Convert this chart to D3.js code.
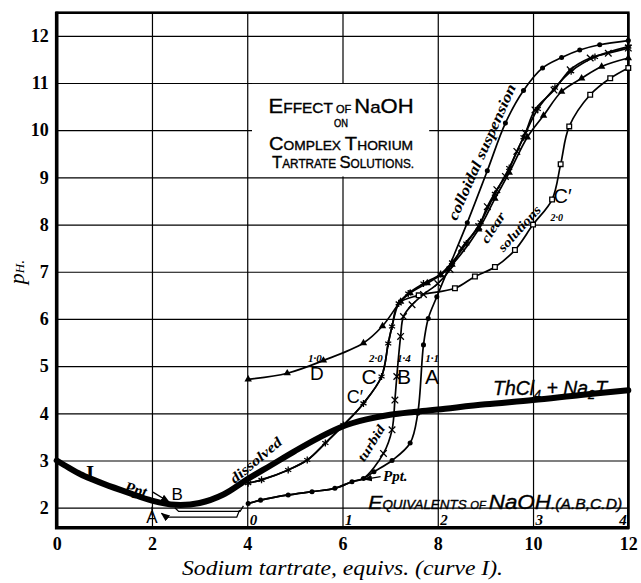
<!DOCTYPE html>
<html lang="en">
<head>
<meta charset="UTF-8">
<title>Effect of NaOH on Complex Thorium Tartrate Solutions</title>
<script src="https://d3js.org/d3.v7.min.js"></script>
<style>
  body { margin: 0; background: #fff; }
  svg { display: block; }
  .grid line { stroke: #000; stroke-width: 1.2px; }
  .grid path { display: none; }
  .tick text { font-family: "Liberation Serif", serif; font-weight: bold; font-size: 18px; fill: #000; }
  .hand { font-family: "Liberation Sans", sans-serif; fill: #000; stroke: #000; stroke-width: 0.35px; }
  .note { font-family: "Liberation Serif", serif; font-style: italic; font-weight: bold; fill: #000; }
  .curve { fill: none; stroke: #000; stroke-width: 1.7px; }
</style>
</head>
<body>
<svg id="chart" width="641" height="583"></svg>
<script>
// curve I : pH against sodium tartrate equivalents
const tartrateEq = [0, 0.25, 0.5, 0.75, 1, 1.5, 2, 2.5, 3, 3.5, 4, 4.5, 5, 5.5, 6, 6.5, 7, 7.5, 8, 9, 10, 11, 12];
const tartratePH = [3.0, 2.85, 2.71, 2.6, 2.5, 2.32, 2.15, 2.06, 2.1, 2.28, 2.6, 2.9, 3.2, 3.48, 3.72, 3.87, 3.97, 4.03, 4.08, 4.19, 4.28, 4.39, 4.49];

// curves A, B, C, D, C' : pH against NaOH equivalents
const aEq = [0.01,0.14,0.43,0.68,0.92,1.10,1.22,1.33,1.52,1.71,1.79,1.85,1.90,1.99,2.11,2.31,2.52,2.71,2.90,3.10,3.30,3.49,3.70,4.00];
const aPH = [2.09,2.16,2.27,2.34,2.41,2.55,2.62,2.76,3.0,3.37,4.0,5.45,6.01,6.47,7.06,8.04,9.14,10.15,10.84,11.32,11.54,11.70,11.81,11.90];

const bEq = [0.01,0.14,0.43,0.68,0.92,1.10,1.22,1.43,1.52,1.55,1.57,1.61,1.64,1.73,1.85,2.00,2.13,2.25,2.43,2.52,2.62,2.71,2.83,2.92,3.02,3.22,3.39,3.60,3.79,4.00];
const bPH = [2.09,2.16,2.27,2.34,2.41,2.55,2.62,3.15,3.65,4.28,4.78,5.63,6.05,6.30,6.52,6.75,7.05,7.50,7.96,8.38,8.74,9.02,9.55,9.94,10.43,10.85,11.28,11.53,11.63,11.74];

const cEq = [0.01,0.15,0.43,0.63,0.82,1.01,1.22,1.41,1.48,1.52,1.59,1.69,1.85,2.03,2.15,2.30,2.45,2.60,2.75,2.90,3.05,3.23,3.40,3.65,4.00];
const cPH = [2.52,2.59,2.80,3.01,3.37,3.75,4.21,4.78,5.48,5.84,6.33,6.54,6.75,6.95,7.20,7.60,8.05,8.65,9.20,9.85,10.45,10.90,11.25,11.55,11.77];

const dEq = [0.01,0.42,0.80,1.22,1.42,1.61,1.71,1.89,2.03,2.15,2.43,2.60,2.75,2.94,3.11,3.30,3.51,3.72,4.00];
const dPH = [4.72,4.85,5.12,5.49,5.85,6.37,6.55,6.76,6.93,7.15,7.90,8.55,9.10,9.85,10.31,10.82,11.10,11.35,11.53];

const cpEq = [0.01,0.15,0.43,0.63,0.82,1.01,1.22,1.41,1.48,1.52,1.59,1.80,2.18,2.39,2.60,2.81,3.00,3.20,3.29,3.38,3.60,3.81,4.00];
const cpPH = [2.52,2.59,2.80,3.01,3.37,3.75,4.21,4.78,5.48,5.84,6.33,6.50,6.65,6.90,7.10,7.46,8.00,8.53,9.28,10.08,10.75,11.10,11.32];

const xTicks = [0, 2, 4, 6, 8, 10, 12];
const yTicks = [2, 3, 4, 5, 6, 7, 8, 9, 10, 11, 12];
const naohTicks = [0, 1, 2, 3, 4];

const svg = d3.select("#chart");

const x = d3.scaleLinear().domain([0, 12]).range([56.7, 628.3]);
const y = d3.scaleLinear().domain([1.576, 12.49]).range([527.7, 12.7]);
const xN = d3.scaleLinear().domain([0, 4]).range([x(4), x(12)]);

const pLeft = x.range()[0], pRight = x.range()[1];
const pTop = y.range()[1], pBottom = y.range()[0];

// grid + tick labels
svg.append("g").attr("class", "grid")
  .attr("transform", `translate(${pLeft},0)`)
  .call(d3.axisLeft(y).tickValues(yTicks).tickSize(-(pRight - pLeft)).tickPadding(8));

svg.append("g").attr("class", "grid")
  .attr("transform", `translate(0,${pBottom})`)
  .call(d3.axisBottom(x).tickValues(xTicks).tickSize(-(pBottom - pTop)).tickPadding(9.5));

// title box blanks the grid behind it
svg.append("rect")
  .attr("x", x(4.1)).attr("y", y(10.98))
  .attr("width", x(7.82) - x(4.1)).attr("height", y(9.02) - y(10.98))
  .attr("fill", "#fff");

// frame
svg.append("rect").attr("x", pLeft).attr("y", pTop)
  .attr("width", pRight - pLeft).attr("height", pBottom - pTop)
  .attr("fill", "none").attr("stroke", "#000").attr("stroke-width", 2.6);
svg.append("path")
  .attr("d", `M${pLeft},${pTop - 1}V${pBottom}H${pRight + 1}`)
  .attr("fill", "none").attr("stroke", "#000").attr("stroke-width", 3.6);

// secondary NaOH axis labels (above the bottom edge)
const sec = svg.append("g")
  .attr("transform", `translate(0,${pBottom})`)
  .call(d3.axisTop(xN).tickValues(naohTicks).tickFormat(d3.format("d")).tickSize(0).tickPadding(2.5));
sec.select(".domain").remove();
sec.selectAll("text")
  .attr("text-anchor", d => d === 4 ? "end" : "start")
  .attr("dx", d => d === 4 ? -2 : 2)
  .style("font-style", "italic").style("font-size", "15px");

// defs: arrowhead
svg.append("defs").append("marker")
  .attr("id", "arrow").attr("viewBox", "0 0 10 10")
  .attr("refX", 9).attr("refY", 5)
  .attr("markerWidth", 7).attr("markerHeight", 7)
  .attr("orient", "auto-start-reverse")
  .append("path").attr("d", "M0,1L10,5L0,9z").attr("fill", "#000");

// curve I
const lineI = d3.line()
  .x((d, i) => x(tartrateEq[i]))
  .y(d => y(d))
  .curve(d3.curveCatmullRom.alpha(0.5));
svg.append("path")
  .attr("d", lineI(tartratePH))
  .attr("fill", "none").attr("stroke", "#000").attr("stroke-width", 6)
  .attr("stroke-linecap", "round");

// NaOH series
const series = [
  { name: "A", eq: aEq, ph: aPH, marker: "circle" },
  { name: "B", eq: bEq, ph: bPH, marker: "times", shares: "A" },
  { name: "C", eq: cEq, ph: cPH, marker: "asterisk" },
  { name: "D", eq: dEq, ph: dPH, marker: "triangle" },
  { name: "C'", eq: cpEq, ph: cpPH, marker: "square", shares: "C" }
];
series.forEach(s => { s.pts = s.eq.map((e, i) => [e, s.ph[i]]); });
const byName = Object.fromEntries(series.map(s => [s.name, s]));

const line = d3.line()
  .x(d => xN(d[0]))
  .y(d => y(d[1]))
  .curve(d3.curveCatmullRom.alpha(0.5));

svg.append("g").selectAll("path").data(series).join("path")
  .attr("class", "curve")
  .attr("d", s => line(s.pts));

const symbols = {
  circle: { type: d3.symbolCircle, size: 20, fill: "#000", stroke: "none" },
  times: { type: d3.symbolTimes, size: 30, fill: "none", stroke: "#000" },
  asterisk: { type: d3.symbolAsterisk, size: 34, fill: "none", stroke: "#000" },
  triangle: { type: d3.symbolTriangle, size: 24, fill: "#000", stroke: "none" },
  square: { type: d3.symbolSquare, size: 22, fill: "#fff", stroke: "#000" }
};

series.forEach(s => {
  const other = s.shares ? byName[s.shares].pts : [];
  const own = s.pts.filter(p => !other.some(q => q[0] === p[0] && q[1] === p[1]));
  const sym = symbols[s.marker];
  svg.append("g").selectAll("path").data(own).join("path")
    .attr("transform", d => `translate(${xN(d[0])},${y(d[1])})`)
    .attr("d", d3.symbol().type(sym.type).size(sym.size))
    .attr("fill", sym.fill).attr("stroke", sym.stroke).attr("stroke-width", 1.3);
});

// bracket lines from the precipitates at A, B to the start of the NaOH curves
const bracketB = [[2.48, 2.0], [2.56, 1.92], [3.85, 1.92], [3.92, 2.04]];
const bracketA = [[2.3, 1.80], [3.78, 1.80], [3.84, 1.95]];
const flat = d3.line().x(d => x(d[0])).y(d => y(d[1]));
svg.append("path").attr("d", flat(bracketB)).attr("fill", "none").attr("stroke", "#000").attr("stroke-width", 1.3);
svg.append("path").attr("d", flat([[2.2, 1.88], ...bracketA])).attr("fill", "none").attr("stroke", "#000")
  .attr("stroke-width", 1.3).attr("marker-start", "url(#arrow)");

// small arrows
svg.append("line").attr("x1", x(2.02)).attr("y1", y(2.33)).attr("x2", x(2.36)).attr("y2", y(2.12))
  .attr("stroke", "#000").attr("stroke-width", 1.3).attr("marker-end", "url(#arrow)");
svg.append("line").attr("x1", x(2.0)).attr("y1", y(1.84)).attr("x2", x(2.0)).attr("y2", y(2.02))
  .attr("stroke", "#000").attr("stroke-width", 1.3);
svg.append("line").attr("x1", x(6.8)).attr("y1", y(2.66)).attr("x2", x(6.46)).attr("y2", y(2.6))
  .attr("stroke", "#000").attr("stroke-width", 1.2).attr("marker-end", "url(#arrow)");

// helper for multi-size lettering
function lettering(px, py, segs, cls, opts = {}) {
  const t = svg.append("text").attr("class", cls)
    .attr("x", px).attr("y", py)
    .attr("text-anchor", opts.anchor || "start");
  if (opts.italic) t.style("font-style", "italic");
  if (opts.length) t.attr("textLength", opts.length).attr("lengthAdjust", "spacingAndGlyphs");
  if (opts.rotate) t.attr("transform", `rotate(${opts.rotate},${px},${py})`);
  segs.forEach(([str, size, dy]) => {
    t.append("tspan").text(str).style("font-size", size + "px").attr("dy", dy || null);
  });
  return t;
}

// title
const tx = x(5.97);
lettering(tx, y(10.37), [["E", 20], ["FFECT", 14], [" OF ", 10], ["N", 20], ["a", 17], ["OH", 20]], "hand", { anchor: "middle", length: 145 });
lettering(tx, y(10.07), [["ON", 10]], "hand", { anchor: "middle", length: 14 });
lettering(tx, y(9.58), [["C", 19], ["OMPLEX ", 13], ["T", 19], ["HORIUM", 13]], "hand", { anchor: "middle", length: 144 });
lettering(tx + 2, y(9.2), [["T", 17], ["ARTRATE ", 12], ["S", 17], ["OLUTIONS.", 12]], "hand", { anchor: "middle", length: 142 });

// NaOH axis caption
lettering(x(6.54), y(1.97), [["E", 19], ["QUIVALENTS ", 12], ["OF ", 10], ["NaOH", 20], [".(A.B,C.D)", 14]], "hand", { italic: true, length: 254 });

// ThCl4 + Na2T
lettering(x(9.16), y(4.38), [["ThCl", 20], ["4", 13, 4], [" + Na", 20, -4], ["2", 13, 4], ["T", 20, -4]], "hand", { italic: true, length: 114 });

// letters
const letters = [
  ["I", 0.70, 2.59, 21, "serif"],
  ["B", 2.53, 2.16, 17, "sans"],
  ["A", 2.0, 1.68, 17, "sans"],
  ["D", 5.46, 4.71, 19, "sans"],
  ["C", 6.56, 4.62, 21, "sans"],
  ["B", 7.29, 4.62, 21, "sans"],
  ["A", 7.88, 4.62, 21, "sans"],
  ["C\u2032", 6.26, 4.22, 18, "sans"],
  ["C\u2032", 10.62, 8.45, 20, "sans"]
];
svg.append("g").selectAll("text").data(letters).join("text")
  .attr("x", d => x(d[1])).attr("y", d => y(d[2]))
  .attr("text-anchor", "middle")
  .style("font-family", d => d[4] === "serif" ? "'Liberation Serif', serif" : "'Liberation Sans', sans-serif")
  .style("font-weight", d => d[4] === "serif" ? "bold" : "normal")
  .style("font-size", d => d[3] + "px")
  .text(d => d[0]);

// ratio labels
const ratios = [["1\u00b70", 5.42, 5.09, 11], ["2\u00b70", 6.70, 5.09, 11], ["1\u00b74", 7.29, 5.09, 11], ["1\u00b71", 7.88, 5.09, 11], ["2\u00b70", 10.5, 8.08, 10]];
svg.append("g").selectAll("text").data(ratios).join("text")
  .attr("class", "note")
  .attr("x", d => x(d[1])).attr("y", d => y(d[2]))
  .attr("text-anchor", "middle").style("font-size", d => d[3] + "px")
  .text(d => d[0]);

// rotated notes
const notes = [
  ["dissolved", 4.18, 3.01, -40, 14, 63],
  ["turbid", 6.6, 3.37, -58, 13, 40],
  ["colloidal suspension", 8.92, 9.54, -66, 15, 147],
  ["clear", 9.16, 7.94, -57, 13, 34],
  ["solutions", 9.71, 7.92, -48, 13, 57]
];
notes.forEach(([str, nx, ny, rot, size, len]) => {
  svg.append("text").attr("class", "note")
    .attr("x", x(nx)).attr("y", y(ny))
    .attr("text-anchor", "middle").attr("dy", "0.35em")
    .attr("transform", `rotate(${rot},${x(nx)},${y(ny)})`)
    .attr("textLength", len).attr("lengthAdjust", "spacingAndGlyphs")
    .style("font-size", size + "px")
    .text(str);
});

// Ppt. labels
svg.append("text").attr("class", "note")
  .attr("x", x(1.41)).attr("y", y(2.33))
  .attr("transform", `rotate(14,${x(1.41)},${y(2.33)})`)
  .style("font-size", "16px").text("Ppt");
svg.append("text").attr("class", "note")
  .attr("x", x(6.85)).attr("y", y(2.57))
  .style("font-size", "15px").text("Ppt.");

// axis titles
lettering(24, 272, [["p", 22], ["H", 13, 0], [".", 16]], "note", { anchor: "middle", rotate: -90 })
  .style("font-weight", "normal");

svg.append("text")
  .attr("x", (pLeft + pRight) / 2).attr("y", 575)
  .attr("text-anchor", "middle")
  .attr("textLength", 321).attr("lengthAdjust", "spacingAndGlyphs")
  .style("font-family", "'Liberation Serif', serif").style("font-style", "italic").style("font-size", "20px")
  .text("Sodium tartrate, equivs. (curve I).");
</script>
</body>
</html>
